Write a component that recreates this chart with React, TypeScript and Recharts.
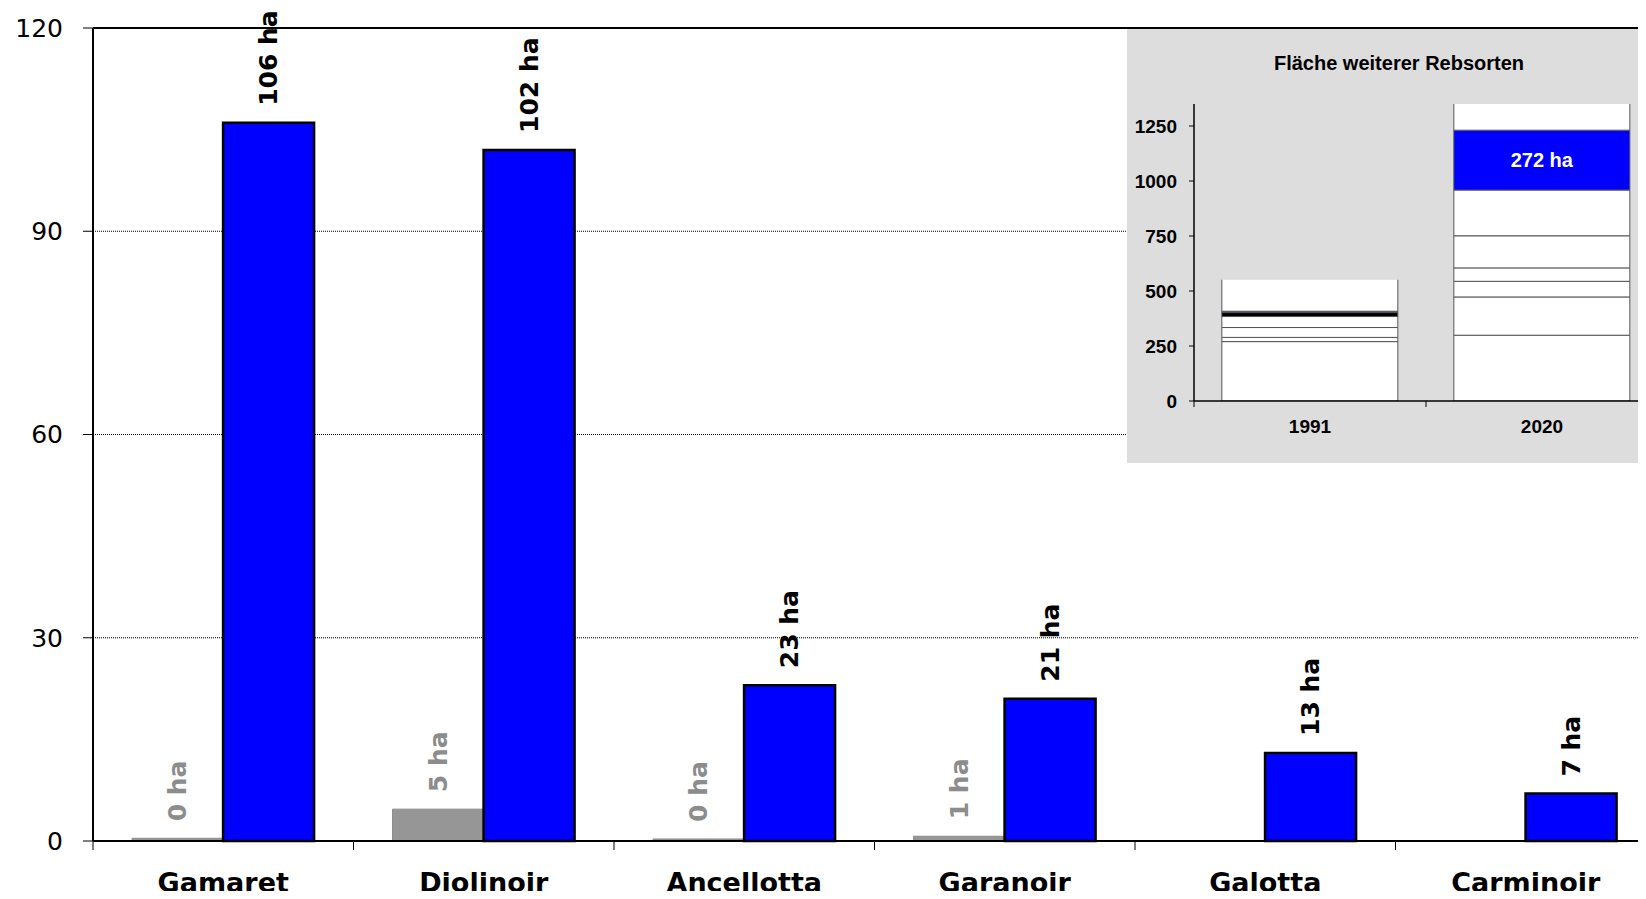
import { BarChart, Bar, XAxis, YAxis, CartesianGrid, ReferenceLine, LabelList } from "recharts"

// main chart: area in ha per variety
const categories = ["Gamaret", "Diolinoir", "Ancellotta", "Garanoir", "Galotta", "Carminoir"]
const area1991 = [0.4, 4.7, 0.3, 0.7, 0, 0]
const area2020 = [106, 102, 23, 21, 13, 7]
const yTicks = [0, 30, 60, 90, 120]

// inset: stacked area of other varieties
const insetYears = ["1991", "2020"]
const segA = [270, 299]
const segB = [19, 174]
const segC = [45, 71]
const segD = [50, 61]
const segBlack = [18, 0]
const segF = [0, 146]
const segG = [0, 208]
const segNew = [6, 272]
const segTop = [143, 200]
const insetTicks = [0, 250, 500, 750, 1000, 1250]

const mainData = categories.map((name, i) => ({
    name,
    y1991: area1991[i],
    y2020: area2020[i],
}))

const insetData = insetYears.map((year, i) => ({
    year,
    a: segA[i],
    b: segB[i],
    c: segC[i],
    d: segD[i],
    k: segBlack[i],
    f: segF[i],
    g: segG[i],
    n: segNew[i],
    t: segTop[i],
}))

const MAIN_FONT = "'DejaVu Sans', Verdana, sans-serif"
const INSET_FONT = "'Liberation Sans', Arial, sans-serif"

function haLabel(color: string) {
    return (props: any) => {
        const { x, y, width, value } = props
        const cx = x + width / 2
        const ty = y - 17
        return (
            <text
                x={cx}
                y={ty}
                transform={`rotate(-90 ${cx} ${ty})`}
                textAnchor="start"
                dominantBaseline="central"
                fontFamily={MAIN_FONT}
                fontSize={25}
                fontWeight="bold"
                fill={color}
            >
                {Math.round(Number(value))} ha
            </text>
        )
    }
}

function MainTick(props: any) {
    const { x, y, payload } = props
    const off = payload.offset || 0
    return (
        <g>
            <line x1={x - off} x2={x - off} y1={y} y2={y + 9} stroke="#000" strokeWidth={1} />
            <text
                x={x}
                y={y + 51}
                textAnchor="middle"
                fontFamily={MAIN_FONT}
                fontSize={27}
                fontWeight="bold"
                fill="#000"
            >
                {payload.value}
            </text>
        </g>
    )
}

function InsetTick(props: any) {
    const { x, y, payload } = props
    const off = payload.offset || 0
    return (
        <g>
            <line x1={x - off} x2={x - off} y1={y} y2={y + 6} stroke="#000" strokeWidth={1} />
            <text
                x={x}
                y={y + 32}
                textAnchor="middle"
                fontFamily={INSET_FONT}
                fontSize={19}
                fontWeight="bold"
                fill="#000"
            >
                {payload.value}
            </text>
        </g>
    )
}

function NewLabel(props: any) {
    const { x, y, width, height, value } = props
    if (Number(value) < 100) return null
    return (
        <text
            x={x + width / 2}
            y={y + height / 2}
            textAnchor="middle"
            dominantBaseline="central"
            fontFamily={INSET_FONT}
            fontSize={20}
            fontWeight="bold"
            fill="#fff"
        >
            {value} ha
        </text>
    )
}

// top segment of the 2020 column runs past the axis, so no top edge
function OpenTop(props: any) {
    const { x, y, width, height } = props
    if (!height) return null
    return (
        <g>
            <rect x={x} y={y} width={width} height={height} fill="#fff" />
            <path
                d={`M${x},${y} V${y + height} H${x + width} V${y}`}
                fill="none"
                stroke="#555"
                strokeWidth={1}
            />
        </g>
    )
}

function Inset() {
    const seg = { stroke: "#555", strokeWidth: 1, isAnimationActive: false, stackId: "s" }
    return (
        <div
            style={{
                position: "absolute",
                left: 1127,
                top: 29,
                width: 519,
                height: 434,
                background: "#dddddd",
                overflow: "hidden",
            }}
        >
            <div
                style={{
                    position: "absolute",
                    left: 0,
                    top: 23,
                    width: 544,
                    textAlign: "center",
                    fontFamily: INSET_FONT,
                    fontWeight: "bold",
                    fontSize: 20,
                    lineHeight: "22px",
                }}
            >
                Fläche weiterer Rebsorten
            </div>
            <div style={{ position: "absolute", left: 0, top: 0 }}>
                <BarChart
                    width={531}
                    height={434}
                    data={insetData}
                    margin={{ top: 75, right: 0, bottom: 0, left: 0 }}
                    barCategoryGap="12%"
                >
                    <YAxis
                        width={67}
                        domain={[0, 1350]}
                        allowDataOverflow
                        ticks={insetTicks}
                        interval={0}
                        tickSize={5}
                        tickMargin={12}
                        axisLine={{ stroke: "#000", strokeWidth: 1.5 }}
                        tickLine={{ stroke: "#000" }}
                        tick={{ fill: "#000", fontFamily: INSET_FONT, fontSize: 19, fontWeight: "bold" }}
                    />
                    <XAxis
                        dataKey="year"
                        height={62}
                        interval={0}
                        tickSize={0}
                        tickMargin={0}
                        tickLine={false}
                        axisLine={{ stroke: "#000", strokeWidth: 1.5 }}
                        tick={<InsetTick />}
                    />
                    <Bar dataKey="a" fill="#fff" {...seg} />
                    <Bar dataKey="b" fill="#fff" {...seg} />
                    <Bar dataKey="c" fill="#fff" {...seg} />
                    <Bar dataKey="d" fill="#fff" {...seg} />
                    <Bar dataKey="k" fill="#000" {...seg} />
                    <Bar dataKey="f" fill="#fff" {...seg} />
                    <Bar dataKey="g" fill="#fff" {...seg} />
                    <Bar dataKey="n" fill="#0000ff" {...seg}>
                        <LabelList dataKey="n" content={<NewLabel />} />
                    </Bar>
                    <Bar dataKey="t" fill="#fff" {...seg} shape={<OpenTop />} />
                </BarChart>
            </div>
        </div>
    )
}

export default function App() {
    return (
        <div
            style={{
                position: "relative",
                margin: -8,
                width: 1646,
                height: 899,
                overflow: "hidden",
                background: "#fff",
            }}
        >
            <BarChart
                width={1656}
                height={899}
                data={mainData}
                margin={{ top: 28, right: 0, bottom: 0, left: 0 }}
                barCategoryGap="15%"
                barGap={0}
            >
                <CartesianGrid vertical={false} stroke="#000" strokeDasharray="1 1" />
                <YAxis
                    width={93}
                    domain={[0, 120]}
                    ticks={yTicks}
                    interval={0}
                    tickSize={10}
                    tickMargin={20}
                    axisLine={{ stroke: "#000", strokeWidth: 2 }}
                    tickLine={{ stroke: "#000" }}
                    tick={{ fill: "#000", fontFamily: MAIN_FONT, fontSize: 25 }}
                />
                <XAxis
                    dataKey="name"
                    height={58}
                    interval={0}
                    tickSize={0}
                    tickMargin={0}
                    tickLine={false}
                    axisLine={{ stroke: "#000", strokeWidth: 2 }}
                    tick={<MainTick />}
                />
                <ReferenceLine y={120} stroke="#000" strokeWidth={2} />
                <Bar
                    dataKey="y1991"
                    fill="#969696"
                    stroke="#8a8a8a"
                    strokeWidth={1}
                    isAnimationActive={false}
                >
                    <LabelList dataKey="y1991" content={haLabel("#8c8c8c")} />
                </Bar>
                <Bar
                    dataKey="y2020"
                    fill="#0000ff"
                    stroke="#000"
                    strokeWidth={2.5}
                    isAnimationActive={false}
                >
                    <LabelList dataKey="y2020" content={haLabel("#000")} />
                </Bar>
            </BarChart>
            <Inset />
        </div>
    )
}
